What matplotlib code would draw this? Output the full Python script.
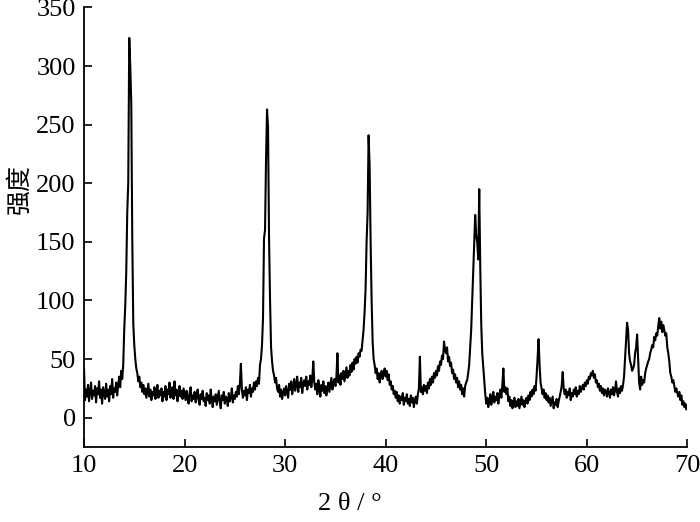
import numpy as np
import matplotlib
matplotlib.use('Agg')
import matplotlib.pyplot as plt

# XRD pattern, 2theta from 10 to 70 deg, step 0.1
two_theta_start = 10.0
two_theta_step = 0.1
intensity = [
    42, 15, 24, 18, 28, 14, 22, 30, 16, 23,        # 10
    19, 27, 13, 25, 20, 31, 17, 24, 12, 26,        # 11
    21, 16, 29, 18, 24, 14, 27, 20, 33, 17,        # 12
    25, 22, 30, 19, 28, 35, 26, 40, 33, 45,        # 13
    75, 95, 124, 175, 200, 324, 300, 268, 153, 80,  # 14
    62, 50, 42, 38, 31, 35, 26, 30, 22, 28,        # 15
    20, 25, 17, 23, 29, 18, 24, 15, 22, 19,        # 16
    26, 16, 21, 28, 17, 23, 19, 25, 14, 22,        # 17
    18, 27, 15, 24, 20, 30, 17, 22, 26, 16,        # 18
    31, 19, 24, 14, 22, 27, 18, 23, 16, 25,        # 19
    20, 15, 23, 17, 12, 21, 26, 14, 19, 16,        # 20
    22, 13, 18, 24, 15, 11, 20, 16, 23, 14,        # 21
    17, 10, 21, 15, 19, 12, 24, 16, 9, 18,         # 22
    14, 20, 11, 17, 23, 13, 8, 19, 15, 22,         # 23
    12, 18, 16, 10, 21, 14, 17, 25, 13, 19,        # 24
    16, 22, 18, 27, 20, 29, 46, 24, 17, 23,        # 25
    19, 26, 15, 24, 21, 28, 18, 25, 22, 30,        # 26
    24, 31, 27, 34, 29, 45, 50, 62, 85, 153,       # 27
    160, 220, 263, 248, 153, 100, 60, 48, 40, 36,  # 28
    30, 34, 25, 22, 28, 18, 24, 16, 21, 25,        # 29
    19, 27, 22, 17, 29, 24, 31, 20, 26, 33,        # 30
    23, 28, 35, 22, 30, 26, 34, 21, 29, 32,        # 31
    27, 35, 24, 31, 28, 36, 26, 33, 48, 30,        # 32
    24, 29, 20, 32, 26, 18, 28, 23, 31, 21,        # 33
    27, 19, 25, 30, 22, 28, 34, 24, 29, 33,        # 34
    27, 35, 55, 30, 36, 28, 38, 33, 40, 31,        # 35
    37, 43, 34, 40, 36, 45, 39, 47, 41, 50,        # 36
    46, 52, 47, 55, 52, 58, 57, 66, 75, 90,        # 37
    110, 150, 175, 241, 215, 150, 100, 65, 50, 45, # 38
    38, 42, 33, 38, 30, 36, 40, 33, 38, 42,        # 39
    35, 40, 32, 37, 28, 31, 24, 27, 20, 23,        # 40
    17, 22, 14, 19, 12, 18, 15, 21, 11, 17,        # 41
    14, 20, 12, 16, 10, 19, 13, 17, 9, 15,         # 42
    18, 12, 20, 25, 52, 22, 26, 20, 28, 23,        # 43
    27, 21, 30, 25, 33, 28, 35, 30, 38, 34,        # 44
    40, 36, 44, 40, 48, 45, 53, 50, 65, 58,        # 45
    55, 60, 48, 52, 44, 47, 38, 41, 33, 37,        # 46
    30, 34, 26, 31, 24, 28, 20, 25, 18, 27,        # 47
    30, 32, 38, 45, 60, 75, 100, 125, 150, 173,    # 48
    155, 150, 135, 195, 130, 80, 55, 43, 30, 20,   # 49
    12, 17, 9, 14, 20, 11, 16, 22, 13, 18,         # 50
    15, 21, 12, 19, 24, 17, 28, 42, 22, 26,        # 51
    20, 25, 14, 18, 10, 15, 8, 13, 17, 9,          # 52
    14, 10, 16, 8, 13, 18, 11, 15, 9, 14,          # 53
    17, 12, 19, 15, 22, 18, 24, 20, 27, 23,        # 54
    35, 50, 67, 45, 30, 25, 20, 24, 17, 21,        # 55
    15, 19, 13, 17, 10, 14, 18, 8, 13, 11,         # 56
    16, 9, 14, 18, 22, 27, 39, 25, 20, 24,         # 57
    17, 22, 19, 25, 15, 21, 18, 24, 20, 26,        # 58
    18, 23, 20, 27, 22, 25, 28, 24, 30, 27,        # 59
    32, 29, 35, 33, 38, 36, 40, 34, 37, 30,        # 60
    32, 26, 29, 23, 27, 21, 25, 19, 24, 22,        # 61
    18, 25, 21, 17, 24, 20, 26, 19, 23, 31,        # 62
    22, 18, 25, 21, 27, 23, 28, 35, 50, 65,        # 63
    81, 75, 55, 48, 45, 40, 42, 45, 55, 60,        # 64
    71, 50, 30, 24, 35, 28, 32, 30, 38, 42,        # 65
    45, 48, 50, 55, 58, 62, 60, 69, 66, 72,        # 66
    70, 78, 85, 76, 82, 73, 79, 75, 70, 72,        # 67
    60, 55, 48, 38, 35, 30, 32, 27, 22, 25,        # 68
    21, 18, 22, 15, 19, 11, 14, 9, 12, 7,          # 69
    10,                                            # 70
]
x_ticks = [10, 20, 30, 40, 50, 60, 70]
y_ticks = [0, 50, 100, 150, 200, 250, 300, 350]

two_theta = two_theta_start + two_theta_step * np.arange(len(intensity))

plt.rcParams['font.family'] = ['Liberation Serif', 'Noto Sans CJK SC', 'DejaVu Sans']

fig = plt.figure(figsize=(7, 5.22), dpi=100)
ax = fig.add_axes([0.12, 0.1437, 0.862, 0.842])
ax.plot(two_theta, intensity, color='k', lw=1.5)

ax.set_xlim(10, 70)
ax.set_ylim(-25, 350)
ax.set_xticks(x_ticks)
ax.set_yticks(y_ticks)
ax.tick_params(direction='in', length=6, width=1.2, labelsize=19, pad=6)

for s in ['top', 'right']:
    ax.spines[s].set_visible(False)
for s in ['left', 'bottom']:
    ax.spines[s].set_linewidth(1.3)

ax.set_xlabel('2 θ / °', fontsize=19)
ax.xaxis.set_label_coords(0.44, -0.105)
ax.set_ylabel('强度', fontsize=18, family=['Noto Sans CJK SC'])
ax.yaxis.set_label_coords(-0.085, 0.586)

fig.savefig('out.png', dpi=100)
